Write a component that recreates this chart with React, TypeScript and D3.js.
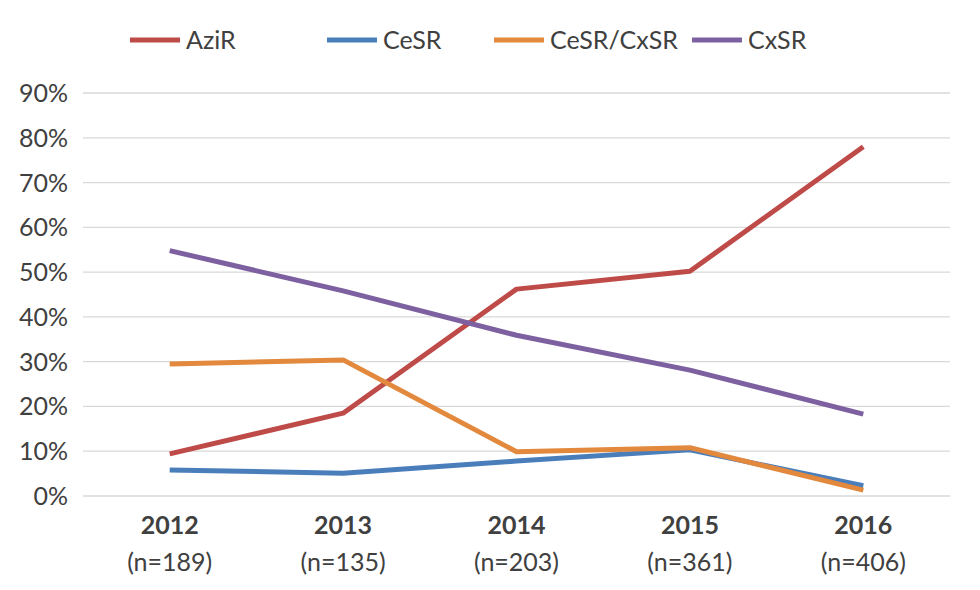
import React, { useEffect, useRef } from 'react';
import * as d3 from 'd3';

const years = ['2012', '2013', '2014', '2015', '2016'];
const sampleSizes = ['(n=189)', '(n=135)', '(n=203)', '(n=361)', '(n=406)'];
const seriesNames = ['AziR', 'CeSR', 'CeSR/CxSR', 'CxSR'];
const aziR = [9.4, 18.5, 46.2, 50.2, 78.0];
const ceSR = [5.8, 5.1, 7.8, 10.3, 2.3];
const ceSRCxSR = [29.5, 30.4, 9.9, 10.8, 1.3];
const cxSR = [54.8, 45.8, 35.9, 28.1, 18.3];
const yTicks = [0, 10, 20, 30, 40, 50, 60, 70, 80, 90];
const colors = ['#BE4B48', '#4A7EBB', '#E2893D', '#7D60A0'];

const App: React.FC = () => {
  const chartRef = useRef<SVGSVGElement | null>(null);

  useEffect(() => {
    document.body.style.margin = '0';
    const width = 980;
    const height = 590;
    const margin = { top: 93, right: 30, bottom: 94, left: 83 };
    const font = 'Lato, "Open Sans", sans-serif';

    const svg = d3.select(chartRef.current);
    svg.selectAll('*').remove();
    svg.attr('width', width).attr('height', height);

    const x = d3
      .scaleBand()
      .domain(years)
      .range([margin.left, width - margin.right]);

    const y = d3
      .scaleLinear()
      .domain([0, 90])
      .range([height - margin.bottom, margin.top]);

    // gridlines
    svg
      .append('g')
      .selectAll('line')
      .data(yTicks)
      .join('line')
      .attr('x1', margin.left)
      .attr('x2', width - margin.right)
      .attr('y1', (d) => y(d))
      .attr('y2', (d) => y(d))
      .attr('stroke', '#D9D9D9')
      .attr('stroke-width', 1.3);

    // y labels
    svg
      .append('g')
      .selectAll('text')
      .data(yTicks)
      .join('text')
      .attr('x', 68)
      .attr('y', (d) => y(d))
      .attr('dy', '0.36em')
      .attr('text-anchor', 'end')
      .attr('font-family', font)
      .attr('font-size', 25)
      .attr('fill', '#404040')
      .text((d) => `${d}%`);

    // x labels
    const xl = svg.append('g');
    xl.selectAll('text.year')
      .data(years)
      .join('text')
      .attr('class', 'year')
      .attr('x', (d) => x(d)! + x.bandwidth() / 2)
      .attr('y', 534)
      .attr('text-anchor', 'middle')
      .attr('font-family', font)
      .attr('font-weight', 'bold')
      .attr('font-size', 25)
      .attr('fill', '#404040')
      .text((d) => d);
    xl.selectAll('text.n')
      .data(years)
      .join('text')
      .attr('class', 'n')
      .attr('x', (d) => x(d)! + x.bandwidth() / 2)
      .attr('y', 571)
      .attr('text-anchor', 'middle')
      .attr('font-family', font)
      .attr('font-size', 25)
      .attr('fill', '#404040')
      .text((d, i) => sampleSizes[i]);

    const allSeries = [aziR, ceSR, ceSRCxSR, cxSR];
    const line = d3
      .line<number>()
      .x((d, i) => x(years[i])! + x.bandwidth() / 2)
      .y((d) => y(d));

    svg
      .append('g')
      .selectAll('path')
      .data(allSeries)
      .join('path')
      .attr('d', (d) => line(d))
      .attr('fill', 'none')
      .attr('stroke', (d, i) => colors[i])
      .attr('stroke-width', 5)
      .attr('stroke-linejoin', 'round');

    // legend
    const legendX = [130, 327, 494, 692];
    const leg = svg
      .append('g')
      .selectAll('g')
      .data(seriesNames)
      .join('g')
      .attr('transform', (d, i) => `translate(${legendX[i]},40)`);
    leg
      .append('line')
      .attr('x1', 0)
      .attr('x2', 50)
      .attr('stroke', (d, i) => colors[i])
      .attr('stroke-width', 5);
    leg
      .append('text')
      .attr('x', 56)
      .attr('dy', '0.36em')
      .attr('font-family', font)
      .attr('font-size', 25)
      .attr('fill', '#404040')
      .text((d) => d);
  }, []);

  return <svg ref={chartRef} style={{ display: 'block' }}></svg>;
};

export default App;
